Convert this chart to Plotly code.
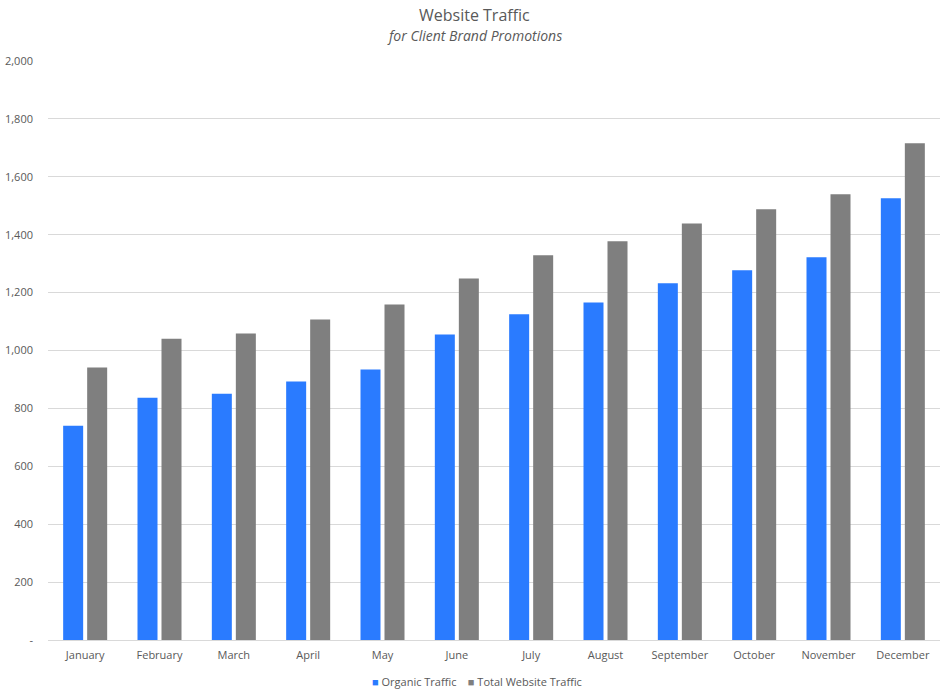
import plotly.graph_objects as go

# Monthly traffic figures
months = ["January", "February", "March", "April", "May", "June",
          "July", "August", "September", "October", "November", "December"]
organic_traffic = [740, 837, 851, 893, 934, 1055, 1125, 1166, 1232, 1277, 1322, 1526]
total_traffic = [941, 1041, 1059, 1107, 1159, 1249, 1329, 1377, 1439, 1488, 1540, 1716]

# Y axis ticks (zero shown as a dash, accounting style)
y_tick_values = [0, 200, 400, 600, 800, 1000, 1200, 1400, 1600, 1800, 2000]
y_tick_labels = ["-", "200", "400", "600", "800", "1,000", "1,200", "1,400", "1,600", "1,800", "2,000"]

series_names = ["Organic Traffic", "Total Website Traffic"]
series_colors = ["#2A7BFF", "#7F7F7F"]

text_color = "#595959"
font_family = "Open Sans, Noto Sans, sans-serif"

fig = go.Figure()
fig.add_trace(go.Bar(x=months, y=organic_traffic, name=series_names[0],
                     marker=dict(color=series_colors[0], line=dict(width=0))))
fig.add_trace(go.Bar(x=months, y=total_traffic, name=series_names[1],
                     marker=dict(color=series_colors[1], line=dict(width=0))))

# Compact legend row, Excel style (small squares next to the labels)
legend_text = "&nbsp;&nbsp;&nbsp;&nbsp;".join(
    f"<span style='color:{c}'>■</span> {n}" for n, c in zip(series_names, series_colors)
)

fig.update_layout(
    width=947,
    height=694,
    margin=dict(l=48, r=7, t=61, b=54),
    paper_bgcolor="white",
    plot_bgcolor="white",
    barmode="group",
    bargap=0.354,
    bargroupgap=0.167,
    font=dict(family=font_family, size=11, color=text_color),
    showlegend=False,
    annotations=[
        dict(text="Website Traffic", xref="paper", yref="paper",
             x=0.4776, y=1.0794, xanchor="center", yanchor="middle",
             showarrow=False, font=dict(size=16, color=text_color)),
        dict(text="<i>for Client Brand Promotions</i>", xref="paper", yref="paper",
             x=0.4776, y=1.0432, xanchor="center", yanchor="middle",
             showarrow=False, font=dict(size=14, color=text_color)),
        dict(text=legend_text, xref="paper", yref="paper",
             x=0.4815, y=-0.0725, xanchor="center", yanchor="middle",
             showarrow=False, font=dict(size=11, color=text_color)),
    ],
)

fig.update_xaxes(
    automargin=False,
    showgrid=False,
    showline=True, linecolor="#D9D9D9", linewidth=1,
    ticks="", ticklabelstandoff=5,
    tickfont=dict(size=11, color=text_color),
)
fig.update_yaxes(
    automargin=False,
    range=[0, 2000],
    tickvals=y_tick_values, ticktext=y_tick_labels,
    showgrid=True, gridcolor="#D9D9D9", gridwidth=1,
    zeroline=False, showline=False,
    ticks="", ticklabelstandoff=14,
    tickfont=dict(size=11, color=text_color),
)

# drop the default 8px body margin so the figure fills the window exactly
fig.write_html("out.html", config={"displayModeBar": False},
               post_script="document.body.style.margin = '0';")
